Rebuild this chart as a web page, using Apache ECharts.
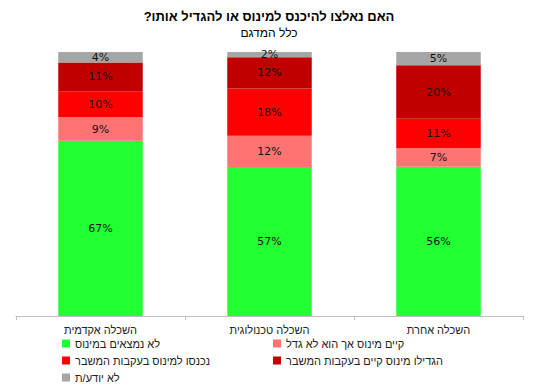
<!DOCTYPE html>
<html><head><meta charset="utf-8">
<script src="https://cdn.jsdelivr.net/npm/echarts@6/dist/echarts.min.js"></script>
<style>html,body{margin:0;padding:0;background:#fff}#c{width:538px;height:391px}</style>
</head><body><div id="c"></div>
<script>
var titleText = 'האם נאלצו להיכנס למינוס או להגדיל אותו?\u200F';
var subtitleText = 'כלל המדגם';
var categories = ['השכלה אקדמית', 'השכלה טכנולוגית', 'השכלה אחרת'];
var seriesNames = ['לא נמצאים במינוס', 'קיים מינוס אך הוא לא גדל', 'נכנסו למינוס בעקבות המשבר', 'הגדילו מינוס קיים בעקבות המשבר', 'לא יודע/ת'];
var notInMinus = [67, 57, 56];
var minusNotGrown = [9, 12, 7];
var enteredMinus = [10, 18, 11];
var grewMinus = [11, 12, 20];
var dontKnow = [4, 2, 5];
var colors = ['#22FF33', '#FF7373', '#FF0000', '#C00000', '#A6A6A6'];

var all = [notInMinus, minusNotGrown, enteredMinus, grewMinus, dontKnow];
var sums = categories.map(function(_, i){ return all.reduce(function(s, a){ return s + a[i]; }, 0); });

var series = all.map(function(arr, k){
  return {
    name: seriesNames[k], type: 'bar', stack: 'total', barWidth: '50%',
    itemStyle: { color: colors[k] },
    label: { show: true, position: 'inside', color: '#111', fontSize: 11, fontFamily: 'DejaVu Sans',
      formatter: function(p){ return arr[p.dataIndex] + '%'; } },
    data: arr.map(function(v, i){ return v / sums[i] * 100; })
  };
});

var chart = echarts.init(document.getElementById('c'), null, {renderer: 'svg'});
chart.setOption({
  animation: false,
  title: [
    { text: titleText, left: 'center', top: 5,
      textStyle: { fontSize: 13, fontWeight: 'bold', color: '#000', fontFamily: 'Arial, Liberation Sans' } },
    { text: subtitleText, left: 'center', top: 22,
      textStyle: { fontSize: 12, fontWeight: 'normal', color: '#000', fontFamily: 'Arial, Liberation Sans' } }
  ],
  legend: [
    { data: [seriesNames[0], seriesNames[2], seriesNames[4]], orient: 'vertical', left: 62, top: 338,
      padding: 0, itemWidth: 8, itemHeight: 8, itemGap: 6, icon: 'rect',
      textStyle: { fontSize: 11, color: '#222', fontFamily: 'Arial, Liberation Sans' } },
    { data: [seriesNames[1], seriesNames[3]], orient: 'vertical', left: 273, top: 338,
      padding: 0, itemWidth: 8, itemHeight: 8, itemGap: 6, icon: 'rect',
      textStyle: { fontSize: 11, color: '#222', fontFamily: 'Arial, Liberation Sans' } }
  ],
  grid: { left: 16, right: 15, top: 52, bottom: 75, containLabel: false },
  xAxis: { type: 'category', data: categories,
    axisLine: { lineStyle: { color: '#BFBFBF' } },
    axisTick: { show: true, length: 4, lineStyle: { color: '#BFBFBF' } },
    axisLabel: { fontSize: 11, color: '#222', margin: 8, fontFamily: 'Arial, Liberation Sans' } },
  yAxis: { type: 'value', min: 0, max: 100, show: false, splitLine: { show: false } },
  series: series
});
</script></body></html>
